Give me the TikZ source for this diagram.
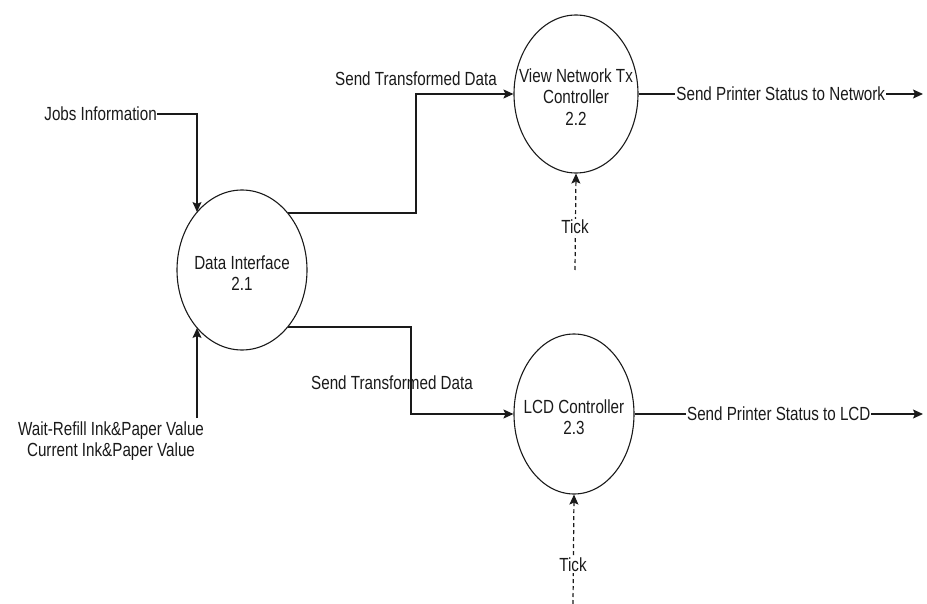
\documentclass[tikz,border=0pt]{standalone}
\usepackage{fontspec}
\setmainfont{Liberation Sans}[FakeStretch=0.8]
\usetikzlibrary{shapes.geometric,arrows.meta}
\definecolor{ink}{HTML}{1A1A1A}
\begin{document}
\begin{tikzpicture}[x=1pt,y=-1pt,
  every node/.style={font=\fontsize{19}{21.5}\selectfont, text=ink, align=center, inner sep=0pt},
  proc/.style={draw=ink, line width=1.1pt, ellipse, minimum width=#1},
  flow/.style={draw=ink, line width=1.2pt, -{Stealth[length=10pt,width=9pt,inset=2pt]}},
  tickflow/.style={flow, dash pattern=on 4pt off 3pt},
  lbl/.style={fill=white, inner sep=1pt}
]
\useasboundingbox (0,0) rectangle (927,604);

% processes
\node[proc=130pt, minimum height=160pt] (di) at (242,270) {};
\node (ditxt) at (242,273) {Data Interface\\2.1};
\node[proc=124pt, minimum height=158pt] (vn) at (576,94) {};
\node (vntxt) at (576,97) {View Network Tx\\Controller\\2.2};
\node[proc=120pt, minimum height=160pt] (lcd) at (574,414) {};
\node (lcdtxt) at (574,417) {LCD Controller\\2.3};

% external labels
\node[anchor=east] (jobs) at (157,114) {Jobs Information};
\node (wait) at (111,441) {Wait-Refill Ink\&Paper Value\\Current Ink\&Paper Value};
\node (st1) at (416,79) {Send Transformed Data};
\node (st2) at (392,383) {Send Transformed Data};

% boundary points
\coordinate (diTop) at (197,212);
\coordinate (diBot) at (197,328);
\coordinate (diNE) at (288,213);
\coordinate (diSE) at (288,327);
\coordinate (waitTop) at (197,418);
\coordinate (netEnd) at (923,94);
\coordinate (lcdEnd) at (923,414);
\coordinate (tick1Start) at (575,270);
\coordinate (tick2Start) at (573,604);

% flows
\draw[flow] (jobs.east) -| (diTop);
\draw[flow] (waitTop) -- (diBot);
\draw[flow] (diNE) -- (416,213) |- (vn.west);
\draw[flow] (diSE) -- (411,327) |- (lcd.west);
\draw[flow] (vn.east) -- node[lbl] (spn) {Send Printer Status to Network} (netEnd);
\draw[flow] (lcd.east) -- node[lbl] (spl) {Send Printer Status to LCD} (lcdEnd);
\draw[tickflow] (tick1Start) -- (vn.south);
\draw[tickflow] (tick2Start) -- (lcd.south);
\node[lbl] (tick1) at (575,227) {Tick};
\node[lbl] (tick2) at (573,565) {Tick};
\end{tikzpicture}
\end{document}
